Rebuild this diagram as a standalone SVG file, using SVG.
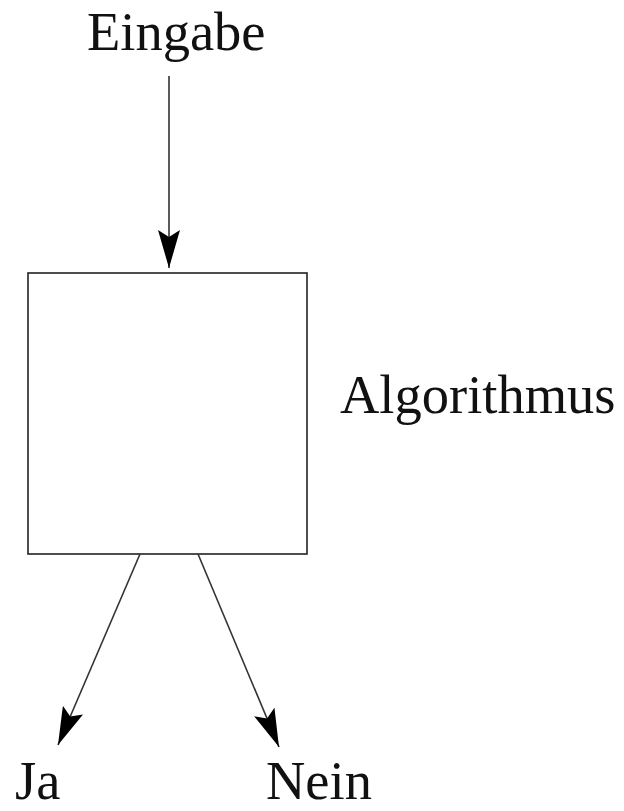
<svg xmlns="http://www.w3.org/2000/svg" width="624" height="811" viewBox="0 0 624 811">
<style>
.t{font-family:"Liberation Serif","Times New Roman",serif;font-size:54.5px;fill:#111}
.c{stroke:#333;stroke-width:1.6;fill:none}
.box{fill:#fff;stroke:#222;stroke-width:1.6}
</style>
<defs>
<marker id="ah" markerUnits="userSpaceOnUse" markerWidth="38" markerHeight="22" refX="38" refY="11" orient="auto" viewBox="0 0 38 22">
<path d="M0,0 L38,11 L0,22 L7,11 Z" fill="#000"/>
</marker>
</defs>
<rect width="624" height="811" fill="#fff"/>
<g id="algorithmus">
<rect class="box" x="28" y="273" width="279" height="281"/>
<text class="t" x="340" y="413">Algorithmus</text>
</g>
<g id="eingabe"><text class="t" x="87" y="50">Eingabe</text></g>
<g id="ja"><text class="t" x="15" y="799">Ja</text></g>
<g id="nein"><text class="t" x="266" y="799">Nein</text></g>
<g id="connectors">
<line class="c" x1="169" y1="76" x2="169" y2="268" marker-end="url(#ah)"/>
<line class="c" x1="140" y1="554" x2="58" y2="745" marker-end="url(#ah)"/>
<line class="c" x1="198" y1="554" x2="279" y2="747" marker-end="url(#ah)"/>
</g>
</svg>
